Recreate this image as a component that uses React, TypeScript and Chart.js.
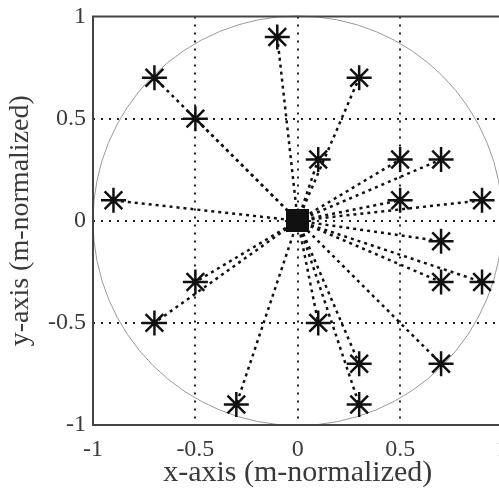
import React, { useEffect, useRef } from "react";
import { Chart, registerables } from "chart.js";

Chart.register(...registerables);

// Ray end points (normalized units); every ray starts at the origin.
const endX = [-0.1, -0.7, 0.3, -0.5, 0.1, 0.5, 0.7, -0.9, 0.5, 0.9, 0.7, -0.5, 0.7, 0.9, -0.7, 0.1, 0.3, 0.7, -0.3, 0.3];
const endY = [0.9, 0.7, 0.7, 0.5, 0.3, 0.3, 0.3, 0.1, 0.1, 0.1, -0.1, -0.3, -0.3, -0.3, -0.5, -0.5, -0.7, -0.7, -0.9, -0.9];
const origin = { x: 0, y: 0 };
const tickValues = [-1, -0.5, 0, 0.5, 1];
const circleRadius = 1;

const FONT = "'Liberation Serif', 'DejaVu Serif', serif";
const TEXT = "#3a3a3a";

const fmt = (v: number) => (v === 0 ? "0" : String(v));

// Unit circle behind the rays and the axes box on top, both sized from the scales.
const frame = {
  id: "frame",
  beforeDatasetsDraw(chart: any) {
    const { ctx, scales } = chart;
    const cx = scales.x.getPixelForValue(0);
    const cy = scales.y.getPixelForValue(0);
    const r = scales.x.getPixelForValue(circleRadius) - cx;
    ctx.save();
    ctx.strokeStyle = "#9a9a9a";
    ctx.lineWidth = 1;
    ctx.beginPath();
    ctx.arc(cx, cy, r, 0, Math.PI * 2);
    ctx.stroke();
    ctx.restore();
  },
  afterDatasetsDraw(chart: any) {
    const { ctx, chartArea: a } = chart;
    ctx.save();
    ctx.strokeStyle = "#444";
    ctx.lineWidth = 2;
    ctx.strokeRect(a.left, a.top, a.right - a.left, a.bottom - a.top);
    ctx.restore();
  },
};

// Keep tick labels from pushing the plot area inward.
const noLabelPadding = (s: any) => {
  s.paddingTop = 0;
  s.paddingBottom = 0;
  s.paddingLeft = 0;
  s.paddingRight = 0;
};

export default function App() {
  const ref = useRef<HTMLCanvasElement | null>(null);

  useEffect(() => {
    if (!ref.current) return;
    const datasets = endX.map((x, i) => ({
      data: [origin, { x, y: endY[i] }],
      showLine: true,
      borderColor: "#111",
      backgroundColor: "#111",
      borderWidth: 2.5,
      borderDash: [3, 4],
      pointStyle: ["rect", "star"],
      pointRadius: [14, 12.5],
      pointBorderWidth: 2.5,
      pointBorderColor: "#111",
      pointBackgroundColor: "#111",
    }));

    const gridColor = (c: any) => (Math.abs(c.tick?.value) === 1 ? "rgba(0,0,0,0)" : "#222");

    const chart = new Chart(ref.current, {
      type: "scatter",
      data: { datasets: datasets as any },
      plugins: [frame],
      options: {
        animation: false,
        responsive: false,
        devicePixelRatio: 1,
        layout: { padding: { top: 16, right: 8, left: 0, bottom: 0 } },
        plugins: { legend: { display: false }, tooltip: { enabled: false } },
        scales: {
          x: {
            type: "linear",
            min: -1,
            max: 1,
            afterBuildTicks: (s: any) => {
              s.ticks = tickValues.map((v) => ({ value: v }));
            },
            afterFit: (s: any) => {
              s.height = 66;
              noLabelPadding(s);
            },
            grid: { color: gridColor, lineWidth: 2, drawTicks: false },
            border: { display: false, dash: [2, 6] },
            ticks: {
              padding: 10,
              color: TEXT,
              font: { family: FONT, size: 24 },
              maxRotation: 0,
              callback: (v: any) => fmt(Number(v)),
            },
            title: {
              display: true,
              text: "x-axis (m-normalized)",
              color: TEXT,
              font: { family: FONT, size: 30 },
              padding: { top: 0, bottom: 0 },
            },
          },
          y: {
            type: "linear",
            min: -1,
            max: 1,
            afterBuildTicks: (s: any) => {
              s.ticks = tickValues.map((v) => ({ value: v }));
            },
            afterFit: (s: any) => {
              s.width = 93;
              noLabelPadding(s);
            },
            grid: { color: gridColor, lineWidth: 2, drawTicks: false },
            border: { display: false, dash: [2, 6] },
            ticks: {
              padding: 7,
              color: TEXT,
              font: { family: FONT, size: 24 },
              callback: (v: any) => fmt(Number(v)),
            },
            title: {
              display: true,
              text: "y-axis (m-normalized)",
              color: TEXT,
              font: { family: FONT, size: 28 },
              padding: { top: 4, bottom: 0 },
            },
          },
        },
      },
    });
    return () => chart.destroy();
  }, []);

  return (
    <div
      style={{
        position: "fixed",
        left: 0,
        top: 0,
        width: 499,
        height: 491,
        overflow: "hidden",
        background: "#fff",
      }}
    >
      <canvas ref={ref} width={519} height={491} style={{ display: "block", width: 519, height: 491 }} />
    </div>
  );
}
